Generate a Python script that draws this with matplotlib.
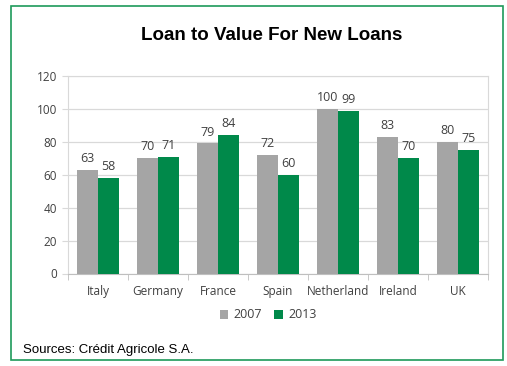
import matplotlib
matplotlib.use("Agg")
import matplotlib.pyplot as plt
import numpy as np
from matplotlib.patches import Rectangle

countries = ["Italy", "Germany", "France", "Spain", "Netherland", "Ireland", "UK"]
ltv_2007 = [63, 70, 79, 72, 100, 83, 80]
ltv_2013 = [58, 71, 84, 60, 99, 70, 75]
series_labels = ["2007", "2013"]
y_ticks = [0, 20, 40, 60, 80, 100, 120]

GRAY = "#A5A5A5"
GREEN = "#00894A"
BORDER = "#1E9A5A"
TICK_FONT = ["Open Sans", "DejaVu Sans"]

W, H = 507, 366
fig = plt.figure(figsize=(W / 100, H / 100), dpi=100)

# outer frame
fig.patches.append(Rectangle((11 / W, 1 - 360 / H), (503 - 11) / W, (360 - 6) / H,
                             transform=fig.transFigure, fill=False,
                             edgecolor=BORDER, linewidth=1.2))

ax = fig.add_axes([68 / W, 1 - 273.5 / H, (488 - 68) / W, (273.5 - 76) / H])

x = np.arange(len(countries))
bw = 0.35
b1 = ax.bar(x - bw / 2, ltv_2007, bw, color=GRAY, label=series_labels[0], zorder=3)
b2 = ax.bar(x + bw / 2, ltv_2013, bw, color=GREEN, label=series_labels[1], zorder=3)

for bars, vals in ((b1, ltv_2007), (b2, ltv_2013)):
    for rect, v in zip(bars, vals):
        ax.text(rect.get_x() + rect.get_width() / 2, v + 3, f"{v}",
                ha="center", va="bottom", fontsize=9, color="#404040",
                family=TICK_FONT)

ax.set_xlim(-0.5, len(countries) - 0.5)
ax.set_ylim(0, 120)
ax.set_yticks(y_ticks)
ax.set_yticklabels([str(t) for t in y_ticks], family=TICK_FONT, fontsize=8.5, color="#404040")
ax.yaxis.grid(True, color="#D9D9D9", linewidth=0.9, zorder=0)
ax.tick_params(axis="y", length=4, color="#D9D9D9", pad=4)

ax.set_xticks(x)
ax.set_xticklabels(countries, family=TICK_FONT, fontsize=8.5, color="#404040")
ax.tick_params(axis="x", length=0, pad=8)
ax.set_xticks(np.arange(-0.5, len(countries)), minor=True)
ax.tick_params(axis="x", which="minor", length=4, color="#BFBFBF")

for side in ("top", "right"):
    ax.spines[side].set_color("#D9D9D9")
ax.spines["left"].set_color("#D9D9D9")
ax.spines["bottom"].set_color("#BFBFBF")

leg = fig.legend(handles=[b1, b2], labels=series_labels, loc="center",
                 bbox_to_anchor=(268 / W, 1 - 315 / H), ncol=2, frameon=False,
                 prop={"family": TICK_FONT, "size": 9}, handlelength=0.7,
                 handleheight=0.7, handletextpad=0.4, columnspacing=1.0,
                 labelcolor="#404040")

fig.text(272 / W, 1 - 35 / H, "Loan to Value For New Loans", ha="center", va="center",
         fontsize=13.5, fontweight="bold", family="Liberation Sans", color="black")
fig.text(23 / W, 1 - 350 / H, "Sources: Crédit Agricole S.A.", ha="left", va="center",
         fontsize=9.5, family="Liberation Sans", color="black")

fig.savefig("out.png", dpi=100)
